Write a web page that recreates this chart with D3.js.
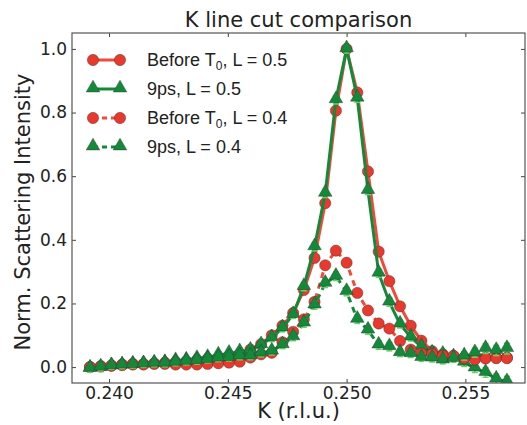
<!DOCTYPE html>
<html>
<head>
<meta charset="utf-8">
<script src="https://cdn.jsdelivr.net/npm/d3@7"></script>
<style>
  body { margin: 0; background: #fff; }
  svg { display: block; }
</style>
</head>
<body>
<div id="chart"></div>
<script>
// K positions: one step of 0.00045 r.l.u. around the 0.250 peak
var kValues = [
  0.2392, 0.23965, 0.2401, 0.24055, 0.241, 0.24145, 0.2419, 0.24235, 0.2428, 0.24325,
  0.2437, 0.24415, 0.2446, 0.24505, 0.2455, 0.24595, 0.2464, 0.24685, 0.2473, 0.24775,
  0.2482, 0.24865, 0.2491, 0.24955, 0.25, 0.25045, 0.2509, 0.25135, 0.2518, 0.25225,
  0.2527, 0.25315, 0.2536, 0.25405, 0.2545, 0.25495, 0.2554, 0.25585, 0.2563, 0.25675
];

var beforeL05 = [
  0.000, 0.003, 0.005, 0.008, 0.010, 0.010, 0.012, 0.014, 0.016, 0.018,
  0.022, 0.026, 0.030, 0.036, 0.042, 0.055, 0.072, 0.100, 0.130, 0.170,
  0.242, 0.343, 0.515, 0.806, 1.000, 0.863, 0.615, 0.363, 0.270, 0.191,
  0.130, 0.083, 0.050, 0.040, 0.035, 0.030, 0.028, 0.030, 0.030, 0.030
];

var ps9L05 = [
  -0.004, -0.002, 0.004, 0.006, 0.009, 0.010, 0.012, 0.014, 0.020, 0.022,
  0.027, 0.030, 0.038, 0.043, 0.048, 0.053, 0.070, 0.092, 0.123, 0.165,
  0.253, 0.378, 0.546, 0.840, 1.000, 0.845, 0.555, 0.295, 0.204, 0.135,
  0.094, 0.064, 0.044, 0.040, 0.032, 0.015, -0.003, -0.017, -0.038, -0.046
];

var beforeL04 = [
  0.000, 0.002, 0.004, 0.006, 0.008, 0.008, 0.010, 0.010, 0.008, 0.008,
  0.008, 0.010, 0.012, 0.014, 0.017, 0.030, 0.040, 0.045, 0.078, 0.111,
  0.150, 0.205, 0.320, 0.366, 0.328, 0.233, 0.178, 0.137, 0.121, 0.082,
  0.055, 0.043, 0.041, 0.035, 0.035, 0.028, 0.024, 0.027, 0.028, 0.028
];

var ps9L04 = [
  -0.004, 0.000, 0.004, 0.006, 0.008, 0.010, 0.012, 0.012, 0.015, 0.018,
  0.020, 0.024, 0.028, 0.030, 0.035, 0.035, 0.044, 0.050, 0.070, 0.095,
  0.138, 0.195, 0.263, 0.285, 0.237, 0.150, 0.116, 0.069, 0.064, 0.045,
  0.042, 0.030, 0.028, 0.022, 0.027, 0.035, 0.045, 0.058, 0.052, 0.058
];

// error bars (only the green ones show)
var ps9Err = [
  0.012, 0.012, 0.011, 0.011, 0.011, 0.011, 0.011, 0.011, 0.011, 0.011,
  0.011, 0.011, 0.011, 0.011, 0.012, 0.012, 0.012, 0.012, 0.012, 0.012,
  0.013, 0.013, 0.013, 0.013, 0.013, 0.013, 0.013, 0.013, 0.013, 0.012,
  0.012, 0.012, 0.012, 0.012, 0.012, 0.013, 0.014, 0.015, 0.016, 0.017
];

var xTicks = [0.240, 0.245, 0.250, 0.255];
var yTicks = [0.0, 0.2, 0.4, 0.6, 0.8, 1.0];

var legendLabels = [
  {text: "Before T", sub: "0", rest: ", L = 0.5"},
  {text: "9ps, L = 0.5"},
  {text: "Before T", sub: "0", rest: ", L = 0.4"},
  {text: "9ps, L = 0.4"}
];

var svgWidth = 527;
var svgHeight = 425;
var margin = {top: 33, right: 2, bottom: 42, left: 72};
var width = svgWidth - margin.left - margin.right;
var height = svgHeight - margin.top - margin.bottom;

var red = "#e8392c", redLine = "#f04a3a";
var green = "#138a3a", greenErr = "#5fd65f";

var svg = d3.select("#chart").append("svg")
  .attr("width", svgWidth)
  .attr("height", svgHeight);

var g = svg.append("g")
  .attr("transform", `translate(${margin.left}, ${margin.top})`);

var xScale = d3.scaleLinear().domain([0.23844, 0.25751]).range([0, width]);
var yScale = d3.scaleLinear().domain([-0.05, 1.05]).range([height, 0]);

var series = [
  {name: "beforeL05", vals: beforeL05, color: red, line: redLine, shape: "circle", dash: null},
  {name: "ps9L05", vals: ps9L05, color: green, line: green, shape: "triangle", dash: null, err: ps9Err},
  {name: "beforeL04", vals: beforeL04, color: red, line: redLine, shape: "circle", dash: "6,5"},
  {name: "ps9L04", vals: ps9L04, color: green, line: green, shape: "triangle", dash: "6,5", err: ps9Err}
];

var line = d3.line()
  .x((d, i) => xScale(kValues[i]))
  .y(d => yScale(d));

var clip = svg.append("clipPath").attr("id", "clip")
  .append("rect").attr("width", width).attr("height", height);

var plot = g.append("g").attr("clip-path", "url(#clip)");

var circleSym = d3.symbol().type(d3.symbolCircle).size(100);
var triSym = d3.symbol().type(d3.symbolTriangle).size(80);

series.forEach(function(s) {
  plot.append("path")
    .datum(s.vals)
    .attr("d", line)
    .attr("fill", "none")
    .attr("stroke", s.line)
    .attr("stroke-width", 3)
    .attr("stroke-dasharray", s.dash);

  var pts = plot.append("g").selectAll("g")
    .data(s.vals)
    .enter()
    .append("g")
    .attr("transform", (d, i) => `translate(${xScale(kValues[i])}, ${yScale(d)})`);

  if (s.err) {
    pts.each(function(d, i) {
      var e = s.err[i];
      var h = yScale(d - e) - yScale(d + e);
      var gg = d3.select(this);
      gg.append("line").attr("x1", 0).attr("x2", 0).attr("y1", -h / 2).attr("y2", h / 2)
        .attr("stroke", greenErr).attr("stroke-width", 1.5);
      gg.append("line").attr("x1", -3).attr("x2", 3).attr("y1", -h / 2).attr("y2", -h / 2)
        .attr("stroke", greenErr).attr("stroke-width", 1.5);
      gg.append("line").attr("x1", -3).attr("x2", 3).attr("y1", h / 2).attr("y2", h / 2)
        .attr("stroke", greenErr).attr("stroke-width", 1.5);
    });
  }

  pts.append("path")
    .attr("d", s.shape === "circle" ? circleSym : triSym)
    .attr("transform", s.shape === "circle" ? null : "translate(0,-1)")
    .attr("fill", s.color)
    .attr("stroke", "#333")
    .attr("stroke-width", 0.6)
    .attr("stroke-opacity", 0.7);
});

// axes, matplotlib style inward ticks on all sides
var tickFont = "DejaVu Sans, sans-serif";

g.append("g")
  .attr("transform", `translate(0, ${height})`)
  .call(d3.axisBottom(xScale).tickValues(xTicks).tickFormat(d3.format(".3f")).tickSizeInner(-4).tickSizeOuter(0).tickPadding(4))
  .call(a => a.select(".domain").remove())
  .selectAll("text").attr("font-family", tickFont).attr("font-size", 17).attr("fill", "#222");

g.append("g")
  .call(d3.axisTop(xScale).tickValues(xTicks).tickFormat("").tickSizeInner(-4).tickSizeOuter(0))
  .call(a => a.select(".domain").remove());

g.append("g")
  .call(d3.axisLeft(yScale).tickValues(yTicks).tickFormat(d3.format(".1f")).tickSizeInner(-4).tickSizeOuter(0).tickPadding(5))
  .call(a => a.select(".domain").remove())
  .selectAll("text").attr("font-family", tickFont).attr("font-size", 17).attr("fill", "#222");

g.append("g")
  .attr("transform", `translate(${width}, 0)`)
  .call(d3.axisRight(yScale).tickValues(yTicks).tickFormat("").tickSizeInner(-4).tickSizeOuter(0))
  .call(a => a.select(".domain").remove());

g.selectAll(".tick line").attr("stroke", "#444");

g.append("rect")
  .attr("width", width)
  .attr("height", height)
  .attr("fill", "none")
  .attr("stroke", "#555")
  .attr("stroke-width", 1.2);

// title and labels
svg.append("text")
  .attr("x", margin.left + width / 2)
  .attr("y", 27)
  .attr("text-anchor", "middle")
  .attr("font-family", tickFont)
  .attr("font-size", 21)
  .attr("fill", "#222")
  .text("K line cut comparison");

svg.append("text")
  .attr("x", margin.left + width / 2)
  .attr("y", 418)
  .attr("text-anchor", "middle")
  .attr("font-family", tickFont)
  .attr("font-size", 21)
  .attr("fill", "#222")
  .text("K (r.l.u.)");

svg.append("text")
  .attr("transform", `translate(30, ${margin.top + height / 2 + 4}) rotate(-90)`)
  .attr("text-anchor", "middle")
  .attr("font-family", tickFont)
  .attr("font-size", 21)
  .attr("fill", "#222")
  .text("Norm. Scattering Intensity");

// legend
var legend = svg.append("g").attr("transform", "translate(93, 60)");
var rowGap = 29;

series.forEach(function(s, i) {
  var row = legend.append("g").attr("transform", `translate(0, ${i * rowGap})`);
  row.append("line")
    .attr("x1", 0).attr("x2", 27).attr("y1", 0).attr("y2", 0)
    .attr("stroke", s.line).attr("stroke-width", 3)
    .attr("stroke-dasharray", s.dash ? "5,4" : null);
  [0, 27].forEach(function(px) {
    row.append("path")
      .attr("d", s.shape === "circle" ? circleSym : triSym)
      .attr("transform", `translate(${px}, ${s.shape === "circle" ? 0 : -1})`)
      .attr("fill", s.color)
      .attr("stroke", "#333")
      .attr("stroke-width", 0.6)
      .attr("stroke-opacity", 0.7);
  });
  var lbl = legendLabels[i];
  var t = row.append("text")
    .attr("x", 54)
    .attr("y", 6)
    .attr("font-family", "Liberation Sans, Arial, sans-serif")
    .attr("font-size", 18)
    .attr("fill", "#222");
  t.append("tspan").text(lbl.text);
  if (lbl.sub) {
    t.append("tspan").attr("dy", 4).attr("font-size", 12).text(lbl.sub);
    t.append("tspan").attr("dy", -4).text(lbl.rest);
  }
});
</script>
</body>
</html>
